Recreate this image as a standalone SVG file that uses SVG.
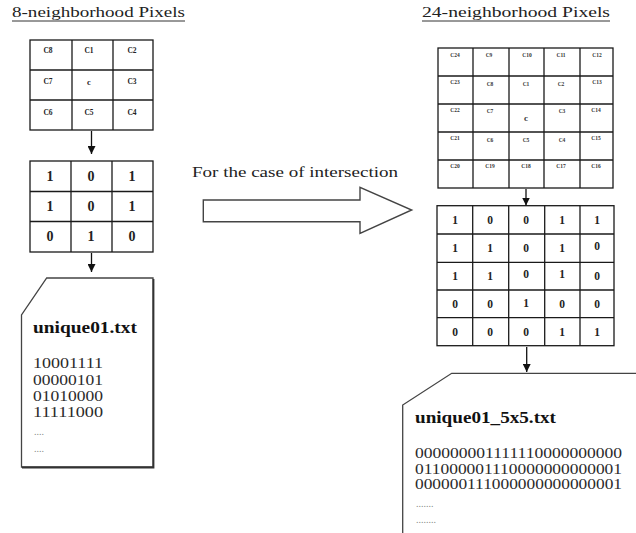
<svg xmlns="http://www.w3.org/2000/svg" width="636" height="533" viewBox="0 0 636 533">
<style>
.t{font-family:"Liberation Serif","Times New Roman",serif;fill:#222}
.title{font-size:15px}
.grid{fill:#fff;stroke:#1a1a1a;stroke-width:1.3}
.ln{stroke:#1a1a1a;stroke-width:1.3}
.lab{font-size:7.5px;font-weight:bold;text-anchor:middle;fill:#222}
.lab2{font-size:5.5px;font-weight:bold;text-anchor:middle;fill:#333}
.bin{font-size:14px;font-weight:bold;text-anchor:middle}
.bin2{font-size:11.5px;font-weight:bold;text-anchor:middle}
.fname{font-size:17px;font-weight:bold;fill:#111}
.data{font-size:15.5px;fill:#2a2a2a}
.dots{font-size:10px;fill:#888}
.doc{fill:#fff;stroke:#444;stroke-width:1.3}
.con{stroke:#111;stroke-width:1.3;fill:none}
</style>
<defs>
<marker id="ah" viewBox="0 0 10 10" refX="10" refY="5" markerWidth="8" markerHeight="8" markerUnits="userSpaceOnUse" orient="auto">
<path d="M0,0 L10,5 L0,10 Z" fill="#111"/>
</marker>
</defs>
<rect width="636" height="533" fill="#fff"/>

<g id="title8">
<text class="t title" x="12" y="17" textLength="173" lengthAdjust="spacingAndGlyphs">8-neighborhood Pixels</text>
<line x1="12" y1="21" x2="185" y2="21" stroke="#333" stroke-width="1"/>
</g>

<g id="grid8">
<rect class="grid" x="30" y="40" width="123" height="90"/>
<line class="ln" x1="72" y1="40" x2="72" y2="130"/>
<line class="ln" x1="113" y1="40" x2="113" y2="130"/>
<line class="ln" x1="30" y1="70" x2="153" y2="70"/>
<line class="ln" x1="30" y1="100" x2="153" y2="100"/>
<text class="t lab" x="48" y="53">C8</text>
<text class="t lab" x="89" y="53">C1</text>
<text class="t lab" x="132" y="53">C2</text>
<text class="t lab" x="48" y="84">C7</text>
<text class="t lab" x="89" y="85" style="font-size:8.5px">c</text>
<text class="t lab" x="132" y="84">C3</text>
<text class="t lab" x="48" y="115">C6</text>
<text class="t lab" x="89" y="115">C5</text>
<text class="t lab" x="132" y="115">C4</text>
</g>

<g id="grid8bin">
<rect class="grid" x="30" y="161" width="123" height="91"/>
<line class="ln" x1="71" y1="161" x2="71" y2="252"/>
<line class="ln" x1="112" y1="161" x2="112" y2="252"/>
<line class="ln" x1="30" y1="191.5" x2="153" y2="191.5"/>
<line class="ln" x1="30" y1="221.5" x2="153" y2="221.5"/>
<text class="t bin" x="50" y="181">1</text>
<text class="t bin" x="91" y="181">0</text>
<text class="t bin" x="132" y="181">1</text>
<text class="t bin" x="50" y="211">1</text>
<text class="t bin" x="91" y="211">0</text>
<text class="t bin" x="132" y="211">1</text>
<text class="t bin" x="50" y="241">0</text>
<text class="t bin" x="91" y="241">1</text>
<text class="t bin" x="132" y="241">0</text>
</g>

<g id="doc8">
<path class="doc" d="M46.7,278 H153 V467 H21.5 V315 Z"/>
<path d="M153.5,279 V467.5 H22" fill="none" stroke="#333" stroke-width="1.8"/>
<text class="t fname" x="33" y="333" textLength="104" lengthAdjust="spacingAndGlyphs">unique01.txt</text>
<text class="t data" x="33" y="368" textLength="70" lengthAdjust="spacingAndGlyphs">10001111</text>
<text class="t data" x="33" y="384.5" textLength="70" lengthAdjust="spacingAndGlyphs">00000101</text>
<text class="t data" x="33" y="400.5" textLength="70" lengthAdjust="spacingAndGlyphs">01010000</text>
<text class="t data" x="33" y="416.5" textLength="70" lengthAdjust="spacingAndGlyphs">11111000</text>
<text class="t dots" x="34" y="435">....</text>
<text class="t dots" x="34" y="452">....</text>
</g>

<g id="caseLabel">
<text class="t" x="192" y="177" style="font-size:15.5px" textLength="206" lengthAdjust="spacingAndGlyphs">For the case of intersection</text>
</g>

<g id="bigArrow">
<path d="M203.3,200 H360 V187.3 L411.7,210 L360,233.3 V221.7 H203.3 Z" fill="#fff" stroke="#444" stroke-width="1.4" stroke-linejoin="miter"/>
</g>

<g id="title24">
<text class="t title" x="422" y="17" textLength="188" lengthAdjust="spacingAndGlyphs">24-neighborhood Pixels</text>
<line x1="422" y1="21" x2="610" y2="21" stroke="#333" stroke-width="1"/>
</g>

<g id="grid24">
<rect class="grid" x="438" y="48" width="175" height="140"/>
<line class="ln" x1="473" y1="48" x2="473" y2="188"/>
<line class="ln" x1="509" y1="48" x2="509" y2="188"/>
<line class="ln" x1="544" y1="48" x2="544" y2="188"/>
<line class="ln" x1="580" y1="48" x2="580" y2="188"/>
<line class="ln" x1="438" y1="76" x2="613" y2="76"/>
<line class="ln" x1="438" y1="104" x2="613" y2="104"/>
<line class="ln" x1="438" y1="132" x2="613" y2="132"/>
<line class="ln" x1="438" y1="160" x2="613" y2="160"/>
<text class="t lab2" x="455" y="57">C24</text>
<text class="t lab2" x="489" y="57">C9</text>
<text class="t lab2" x="527" y="57">C10</text>
<text class="t lab2" x="561" y="57">C11</text>
<text class="t lab2" x="597" y="57">C12</text>
<text class="t lab2" x="455" y="84">C23</text>
<text class="t lab2" x="490" y="86">C8</text>
<text class="t lab2" x="526" y="86">C1</text>
<text class="t lab2" x="561" y="86">C2</text>
<text class="t lab2" x="597" y="84">C13</text>
<text class="t lab2" x="455" y="112">C22</text>
<text class="t lab2" x="490" y="113">C7</text>
<text class="t" x="526" y="121" style="font-size:9px;font-weight:bold;text-anchor:middle;fill:#333">c</text>
<text class="t lab2" x="562" y="113">C3</text>
<text class="t lab2" x="596" y="112">C14</text>
<text class="t lab2" x="455" y="140">C21</text>
<text class="t lab2" x="490" y="142">C6</text>
<text class="t lab2" x="526" y="142">C5</text>
<text class="t lab2" x="562" y="142">C4</text>
<text class="t lab2" x="596" y="140">C15</text>
<text class="t lab2" x="455" y="168">C20</text>
<text class="t lab2" x="490" y="168">C19</text>
<text class="t lab2" x="526" y="168">C18</text>
<text class="t lab2" x="561" y="168">C17</text>
<text class="t lab2" x="596" y="168">C16</text>
</g>

<g id="grid24bin">
<rect class="grid" x="437" y="205.7" width="177" height="140"/>
<line class="ln" x1="472.7" y1="205.7" x2="472.7" y2="345.7"/>
<line class="ln" x1="508.7" y1="205.7" x2="508.7" y2="345.7"/>
<line class="ln" x1="544.7" y1="205.7" x2="544.7" y2="345.7"/>
<line class="ln" x1="580" y1="205.7" x2="580" y2="345.7"/>
<line class="ln" x1="437" y1="234" x2="614" y2="234"/>
<line class="ln" x1="437" y1="262.3" x2="614" y2="262.3"/>
<line class="ln" x1="437" y1="290" x2="614" y2="290"/>
<line class="ln" x1="437" y1="317.7" x2="614" y2="317.7"/>
<text class="t bin2" x="455" y="224">1</text>
<text class="t bin2" x="490" y="224">0</text>
<text class="t bin2" x="526" y="224">0</text>
<text class="t bin2" x="562" y="224">1</text>
<text class="t bin2" x="597" y="224">1</text>
<text class="t bin2" x="455" y="252">1</text>
<text class="t bin2" x="490" y="252">1</text>
<text class="t bin2" x="526" y="252">0</text>
<text class="t bin2" x="562" y="252">1</text>
<text class="t bin2" x="597" y="250">0</text>
<text class="t bin2" x="455" y="280">1</text>
<text class="t bin2" x="490" y="280">1</text>
<text class="t bin2" x="526" y="278">0</text>
<text class="t bin2" x="562" y="278">1</text>
<text class="t bin2" x="597" y="280">0</text>
<text class="t bin2" x="455" y="308">0</text>
<text class="t bin2" x="490" y="308">0</text>
<text class="t bin2" x="526" y="307">1</text>
<text class="t bin2" x="562" y="308">0</text>
<text class="t bin2" x="597" y="308">0</text>
<text class="t bin2" x="455" y="336">0</text>
<text class="t bin2" x="490" y="336">0</text>
<text class="t bin2" x="526" y="336">0</text>
<text class="t bin2" x="562" y="336">1</text>
<text class="t bin2" x="597" y="336">1</text>
</g>

<g id="doc24">
<path class="doc" d="M637,373.3 H451.7 L402.7,405 V534"/>
<text class="t fname" x="415" y="423" textLength="141" lengthAdjust="spacingAndGlyphs">unique01_5x5.txt</text>
<text class="t data" x="415" y="458.3" textLength="207" lengthAdjust="spacingAndGlyphs">000000001111110000000000</text>
<text class="t data" x="415" y="473.8" textLength="207" lengthAdjust="spacingAndGlyphs">011000001110000000000001</text>
<text class="t data" x="415" y="489.3" textLength="207" lengthAdjust="spacingAndGlyphs">000000111000000000000001</text>
<text class="t dots" x="416" y="506.5">.......</text>
<text class="t dots" x="416" y="522.5">........</text>
</g>

<g id="connectors">
<line class="con" x1="91.5" y1="131" x2="91.5" y2="154" marker-end="url(#ah)"/>
<line class="con" x1="91.5" y1="253" x2="91.5" y2="272" marker-end="url(#ah)"/>
<line class="con" x1="526" y1="189" x2="526" y2="205.5" marker-end="url(#ah)"/>
<line class="con" x1="526.7" y1="347" x2="526.7" y2="372" marker-end="url(#ah)"/>
</g>
</svg>
